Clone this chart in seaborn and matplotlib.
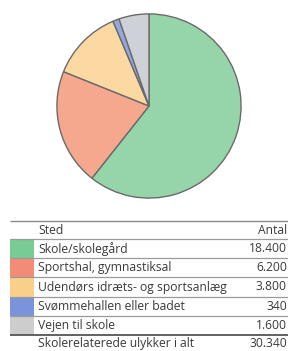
import numpy as np
import matplotlib
matplotlib.use("Agg")
import matplotlib.pyplot as plt
import seaborn as sns

# data
places = ["Skole/skolegård", "Sportshal, gymnastiksal", "Udendørs idræts- og sportsanlæg",
          "Svømmehallen eller badet", "Vejen til skole"]
counts = [18400, 6200, 3800, 340, 1600]
count_labels = ["18.400", "6.200", "3.800", "340", "1.600"]
total_label = "Skolerelaterede ulykker i alt"
total_value = "30.340"
header = ["Sted", "Antal"]

pie_colors = ["#96d5a9", "#f5a88d", "#fcd9a2", "#93a8df", "#cfd1d8"]
swatch_colors = ["#78cc93", "#f38c76", "#f8d08a", "#7b93da", "#cdcdcd"]

sns.set_theme(style="white")
plt.rcParams['font.family'] = ['Open Sans', 'DejaVu Sans']

fig = plt.figure(figsize=(2.88, 3.51), dpi=100)

# pie
ax = fig.add_axes([(149 - 93) / 288, (351 - 199) / 351, 186 / 288, 186 / 351])
ax.pie(counts, colors=pie_colors, startangle=90, counterclock=False,
       wedgeprops=dict(edgecolor="#6a6a6a", linewidth=1.0))
ax.set_xlim(-1.01, 1.01)
ax.set_ylim(-1.01, 1.01)
ax.set_aspect("equal")
ax.axis("off")

# table, drawn in pixel-like coordinates
tb = fig.add_axes([0, 0, 1, 1])
tb.set_xlim(0, 288)
tb.set_ylim(351, 0)
tb.axis("off")
tb.patch.set_alpha(0)

top, head_h, row_h = 221, 18, 19.2
x0, x_sw, x_txt, x_num = 10, 34, 38, 287
fs = 8.7
tc = "#3a3a3a"

tb.hlines(top, x0, 288, color="#8a8a8a", lw=1.0)
tb.text(x_txt, top + head_h / 2, header[0], fontsize=fs, color=tc, va="center")
tb.text(x_num, top + head_h / 2, header[1], fontsize=fs, color=tc, va="center", ha="right")

y = top + head_h
for i, (name, lab) in enumerate(zip(places, count_labels)):
    tb.add_patch(plt.Rectangle((x0, y), x_sw - x0, row_h, color=swatch_colors[i], lw=0))
    tb.hlines(y, x0, 288, color="#9a9a9a", lw=0.9)
    tb.text(x_txt, y + row_h / 2, name, fontsize=fs, color=tc, va="center")
    tb.text(x_num, y + row_h / 2, lab, fontsize=fs, color=tc, va="center", ha="right")
    y += row_h
tb.hlines(y, x0, 288, color="#555555", lw=1.3)
tb.text(x_txt, y + 9, total_label, fontsize=fs, color=tc, va="center")
tb.text(x_num, y + 9, total_value, fontsize=fs, color=tc, va="center", ha="right")

fig.savefig("out.png", dpi=100)
